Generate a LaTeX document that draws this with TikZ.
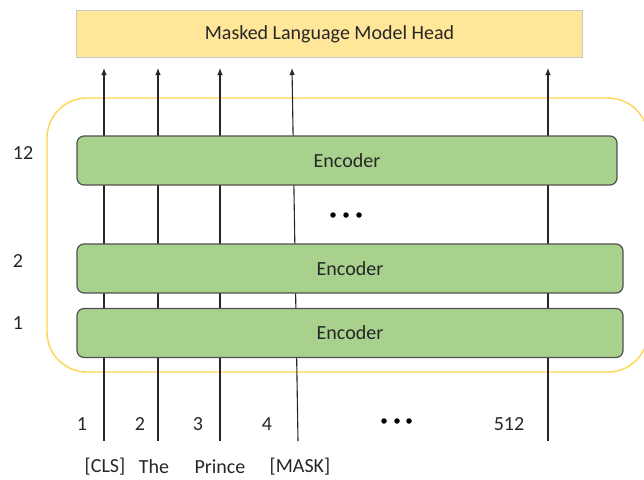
\documentclass[tikz,border=0pt]{standalone}
\usepackage{fontspec}
\setmainfont{Carlito}
\usetikzlibrary{positioning,arrows.meta}
\definecolor{headfill}{HTML}{FFE699}
\definecolor{headline}{HTML}{C8C8C8}
\definecolor{encfill}{HTML}{A9D18E}
\definecolor{encline}{HTML}{505050}
\definecolor{stackline}{HTML}{FFD54F}
\definecolor{txt}{HTML}{262626}
\tikzset{
  head/.style={
    rectangle,
    fill=headfill,
    draw=headline, line width=1pt,
    minimum width=506pt,
    minimum height=47pt,
    text=txt},
  encoder/.style={
    rectangle,
    rounded corners=7pt,
    fill=encfill,
    draw=encline, line width=1.2pt,
    minimum height=49pt,
    text=txt},
  stack/.style={draw=stackline, line width=1.4pt, rounded corners=40pt},
  line/.style={draw=black!85, line width=1.1pt, -{Latex[length=7pt,width=5.5pt]}},
  lbl/.style={text=txt, inner sep=0pt},
  dot/.style={circle, fill=black, inner sep=0pt, minimum size=5.5pt},
}
\begin{document}
\begin{tikzpicture}
  [x=1pt, y=-1pt,
  font=\fontsize{20}{24}\selectfont]
  \useasboundingbox (0,0) rectangle (644,479);
  % the stack of encoders
  \draw[stack] (47,98) rectangle (648,372);
  % token positions
  \coordinate (in1) at (104,441);
  \coordinate (in2) at (158,441);
  \coordinate (in3) at (220,441);
  \coordinate (in4) at (298,441);
  \coordinate (in5) at (548,441);
  \coordinate (out1) at (104,68);
  \coordinate (out2) at (158,68);
  \coordinate (out3) at (220,68);
  \coordinate (out4) at (292,68);
  \coordinate (out5) at (548,68);
  \foreach \i in {1,...,5}
    \path[line] (in\i) -- (out\i);
  % layers
  \node[encoder, minimum width=540pt] (Enc12) at (347,160.5) {Encoder};
  \node[encoder, minimum width=546pt] (Enc2) at (350,268.5) {Encoder};
  \node[encoder, minimum width=546pt] (Enc1) at (350,333) {Encoder};
  \node[head] (Head) at (329.5,34) {Masked Language Model Head};
  \node[lbl] (L12) at (23,153) {12};
  \node[lbl] (L2) at (18,261) {2};
  \node[lbl] (L1) at (18,323) {1};
  \foreach \x [count=\k] in {333,346,359}
    \node[dot] (MidDot\k) at (\x,215) {};
  % positions and words
  \node[lbl] (Pos1) at (82,424) {1};
  \node[lbl] (Pos2) at (140,424) {2};
  \node[lbl] (Pos3) at (198,424) {3};
  \node[lbl] (Pos4) at (267,424) {4};
  \node[lbl] (Pos512) at (509,424) {512};
  \foreach \x [count=\k] in {384,397,409}
    \node[dot] (PosDot\k) at (\x,421) {};
  \node[lbl] (Cls) at (105,467) {[CLS]};
  \node[lbl] (The) at (154,467) {The};
  \node[lbl] (Prince) at (220,467) {Prince};
  \node[lbl] (Mask) at (300,467) {[MASK]};
\end{tikzpicture}
\end{document}
